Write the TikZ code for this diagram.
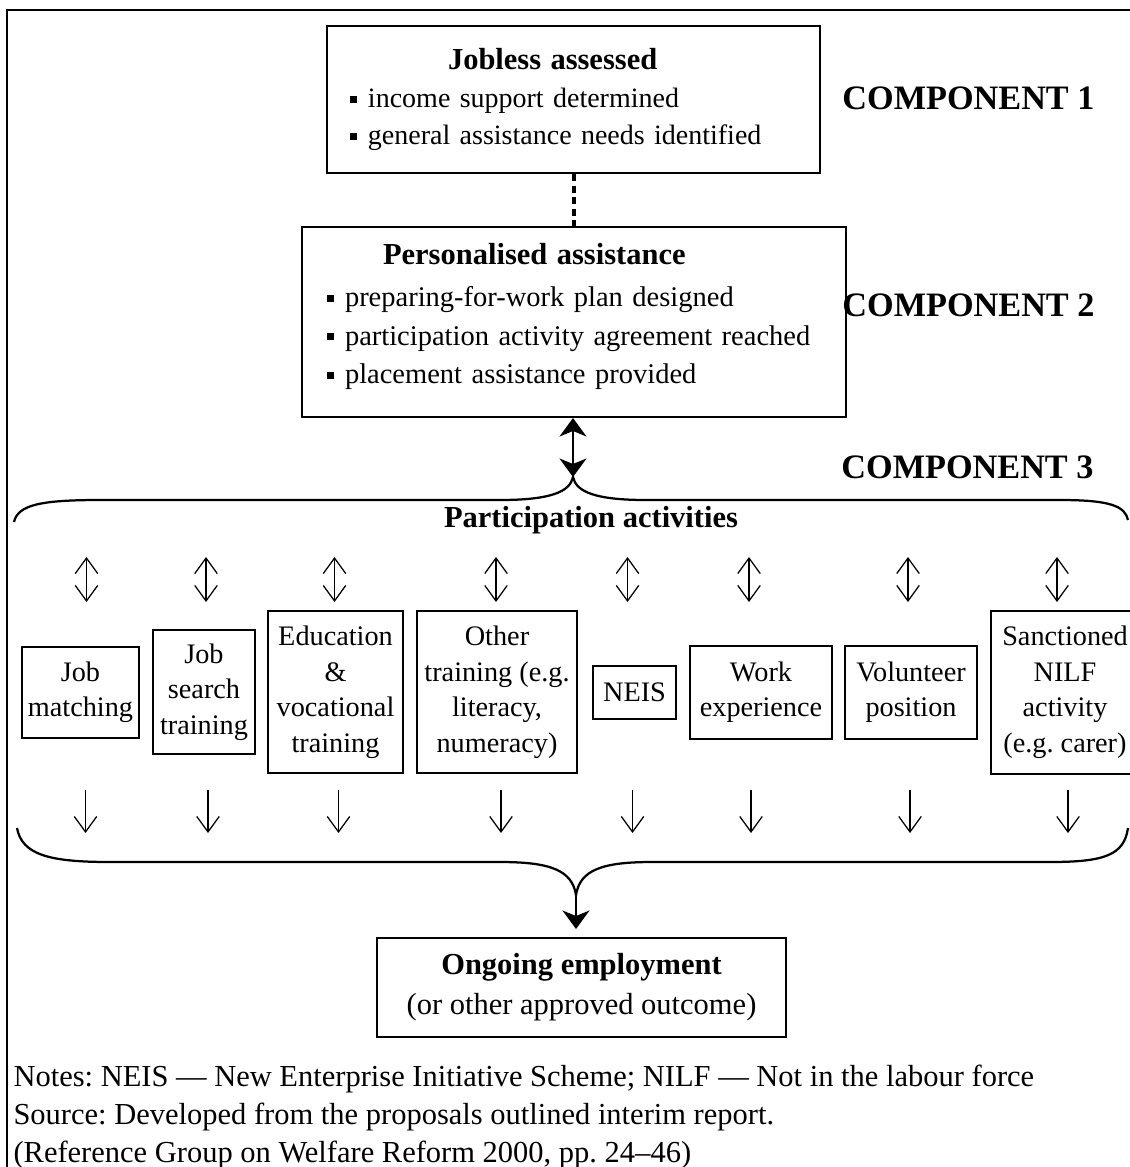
\documentclass[tikz,border=0pt]{standalone}
\usepackage{fontspec}
\setmainfont{Liberation Serif}
\usetikzlibrary{positioning}
\usetikzlibrary{arrows.meta}
\usetikzlibrary{calc}

\newcommand{\sqb}{\rule[0.4ex]{2.8pt}{2.8pt}\hspace{4.4pt}}
\frenchspacing

\begin{document}
\begin{tikzpicture}[x=0.4pt, y=-0.4pt,
    bigbox/.style={draw, line width=0.8pt, align=left, font=\fontsize{11.4}{15.4}\selectfont},
    actbox/.style={draw, line width=0.8pt, align=center, inner xsep=1pt, inner ysep=3pt, font=\fontsize{11.3}{14.2}\selectfont},
    comp/.style={anchor=east, inner sep=0pt, font=\fontsize{13.7}{16}\selectfont\bfseries},
    brace/.style={line width=0.9pt},
    dotconn/.style={line width=1.6pt, dash pattern=on 2.8pt off 1.8pt},
    bigarr/.style={line width=0.6pt, -{Stealth[length=7.4pt, width=10.8pt, inset=2.2pt]}},
    bigdbl/.style={line width=0.6pt, {Stealth[length=7.4pt, width=10.8pt, inset=2.2pt]}-{Stealth[length=7.4pt, width=10.8pt, inset=2.2pt]}},
    smallarr/.style={line width=0.5pt, -{Straight Barb[length=6.2pt, width=9pt]}},
    smalldbl/.style={line width=0.5pt, {Straight Barb[length=6.2pt, width=9pt]}-{Straight Barb[length=6.2pt, width=9pt]}},
    note/.style={anchor=base west, inner sep=0pt, font=\fontsize{12.2}{15}\selectfont}]
  \useasboundingbox (0,0) rectangle (1130,1167);
  \draw[line width=0.6pt] (1130,10) -- (7,10) -- (7,1167);

  % components 1 and 2
  \node[bigbox, text width=178.8pt, inner xsep=9.2pt, minimum height=58.8pt, font=\fontsize{11.2}{14.8}\selectfont] (jb) at (573.5,99.5)
    {\hspace*{39.2pt}\textbf{\fontsize{12.2}{15}\selectfont Jobless assessed}\\[0.5pt] \sqb income support determined\\ \sqb general assistance needs identified};
  \node[bigbox, text width=197.6pt, inner xsep=10pt, minimum height=76pt] (pa) at (574,322)
    {\hspace*{22.4pt}\textbf{\fontsize{12.2}{15}\selectfont Personalised assistance}\\[1.5pt] \sqb preparing-for-work plan designed\\ \sqb participation activity agreement reached\\ \sqb placement assistance provided\\[-8.8pt]\mbox{}};
  \node[comp] (c1) at (1095,98) {COMPONENT 1};
  \node[comp] (c2) at (1095,305) {COMPONENT 2};
  \node[comp] (c3) at (1094,467) {COMPONENT 3};
  \draw[dotconn] (jb.south) -- (jb.south |- pa.north);

  % component 3
  \coordinate (cuspt) at (573,477);
  \coordinate (cuspb) at (576,895);
  \draw[bigdbl] (pa.south -| cuspt) -- (cuspt);
  \draw[brace] (14,522) .. controls (18,505) and (40,500) .. (100,500) -- (500,500) .. controls (550,500) and (570,492) .. (cuspt)
    .. controls (576,492) and (596,500) .. (646,500) -- (1060,500) .. controls (1110,500) and (1125,506) .. (1128,520);
  \node[font=\fontsize{12.2}{14}\selectfont\bfseries] (partact) at (591,520) {Participation activities};

  \node[actbox, minimum width=46.8pt, minimum height=36.4pt] (jm) at (80.5,692) {Job\\matching};
  \node[actbox, minimum width=40.8pt, minimum height=49.6pt, right=4.8pt of jm] (js) {Job\\search\\training};
  \node[actbox, minimum width=54pt, minimum height=64.8pt, right=4.4pt of js] (ed) {Education\\\&\\vocational\\training};
  \node[actbox, minimum width=64pt, minimum height=64.8pt, right=4.8pt of ed] (ot) {Other\\training (e.g.\\literacy,\\numeracy)};
  \node[actbox, minimum width=33.2pt, minimum height=21.2pt, right=5.6pt of ot] (ne) {NEIS};
  \node[actbox, minimum width=56.8pt, minimum height=37.2pt, right=4.8pt of ne] (we) {Work\\experience};
  \node[actbox, minimum width=52.8pt, minimum height=37.2pt, right=4.4pt of we] (vp) {Volunteer\\position};
  \node[actbox, minimum width=59.2pt, minimum height=65.2pt, right=4.8pt of vp] (sa) {Sanctioned\\NILF\\activity\\(e.g. carer)};

  \coordinate (upa) at (0,557);
  \coordinate (upb) at (0,602);
  \coordinate (dna) at (0,790);
  \coordinate (dnb) at (0,833);
  \foreach \n/\du/\dd in {jm/6/5, js/2/4, ed/-1/3, ot/-1/4, ne/-7/-2, we/-12/-10, vp/-3/-1, sa/-8/3}
  {
    \draw[smalldbl] ($(\n |- upa)+(\du,0)$) -- ($(\n |- upb)+(\du,0)$);
    \draw[smallarr] ($(\n |- dna)+(\dd,0)$) -- ($(\n |- dnb)+(\dd,0)$);
  }

  \draw[brace] (17,828) .. controls (22,855) and (50,862) .. (110,862) -- (500,862) .. controls (550,862) and (572,870) .. (cuspb)
    .. controls (580,870) and (602,862) .. (652,862) -- (1050,862) .. controls (1105,862) and (1124,855) .. (1128,828);

  % outcome
  \node[bigbox, align=center, minimum width=163.6pt, minimum height=39.6pt, font=\fontsize{12.2}{15.4}\selectfont] (out) at (581.5,987.5)
    {\textbf{Ongoing employment}\\[0.6pt](or other approved outcome)};
  \draw[bigarr, shorten >=3.2pt] (cuspb) -- (cuspb |- out.north);

  \node[note] (note1) at (13,1086) {Notes: NEIS — New Enterprise Initiative Scheme; NILF — Not in the labour force};
  \node[note] (note2) at (13,1124) {Source: Developed from the proposals outlined interim report.};
  \node[note] (note3) at (13,1162) {(Reference Group on Welfare Reform 2000, pp. 24–46)};
\end{tikzpicture}
\end{document}
